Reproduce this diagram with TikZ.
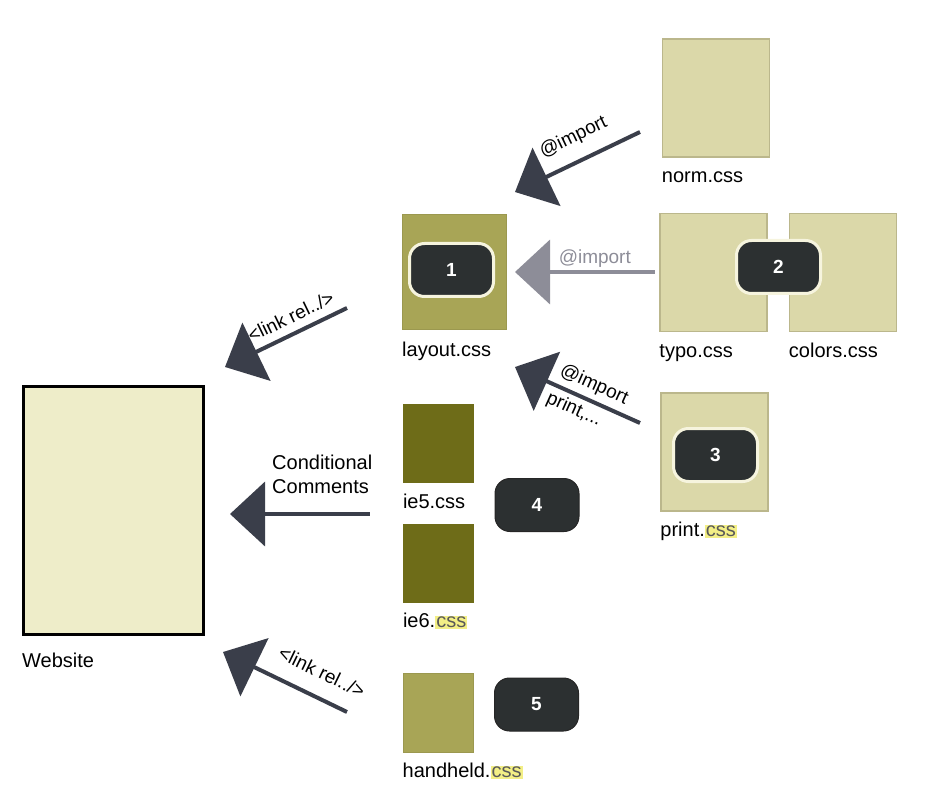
\documentclass[tikz,border=0pt]{standalone}
\usepackage{fontspec}
\setmainfont{Liberation Sans}
\usepackage{tikz}
\usetikzlibrary{arrows.meta,positioning}
\definecolor{sitefill}{HTML}{EEEDC9}
\definecolor{palefill}{HTML}{DBD8A9}
\definecolor{paleedge}{HTML}{BBB78C}
\definecolor{olivefill}{HTML}{A8A556}
\definecolor{darkolive}{HTML}{6E6C18}
\definecolor{badgedark}{HTML}{2C3031}
\definecolor{badgerim}{HTML}{F6F4DE}
\definecolor{arrowdark}{HTML}{3A3E4A}
\definecolor{arrowgray}{HTML}{8D8D98}
\definecolor{cssyellow}{HTML}{F3EF86}
\newcommand{\csshl}[1]{{\setlength{\fboxsep}{1pt}\colorbox{cssyellow}{\color{black!65}#1}}}
\tikzset{
    %Define style for boxes
    site/.style={
           rectangle,
           draw=black, line width=3pt,
           fill=sitefill,
           minimum width=180pt,
           minimum height=248pt,
           inner sep=0pt},
    pale/.style={
           rectangle,
           draw=paleedge, line width=1.5pt,
           fill=palefill,
           minimum width=107pt,
           minimum height=118pt,
           inner sep=0pt},
    olive/.style={
           rectangle,
           draw=olivefill!92!black, line width=1pt,
           fill=olivefill,
           inner sep=0pt},
    darkbox/.style={
           rectangle,
           fill=darkolive,
           minimum width=71pt,
           minimum height=79pt,
           inner sep=0pt},
    badge/.style={
           rectangle,
           rounded corners=15pt,
           draw=badgerim, line width=3pt,
           fill=badgedark,
           minimum width=84pt,
           minimum height=53pt,
           text=white,
           font=\fontsize{19}{21}\selectfont\bfseries},
    plainbadge/.style={badge, draw=black!85, line width=1pt},
    fname/.style={
           anchor=base west,
           inner sep=0pt,
           font=\fontsize{20}{24}\selectfont},
    % Define arrow style
    pil/.style={
           {Triangle[length=35pt,width=64pt]}-,
           line width=4pt,
           draw=arrowdark},
    tag/.style={sloped, inner sep=1pt, font=\fontsize{19}{22}\selectfont}
}
\begin{document}
\begin{tikzpicture}[x=1pt,y=-1pt]
\useasboundingbox (0,0) rectangle (932,810);
 %nodes
\node[site] (web) at (113.5,510.5) {};
\node[olive, minimum width=104pt, minimum height=115pt] (layout) at (454.5,272) {};
\node[pale] (norm) at (716,98) {};
\node[pale] (typo) at (713.5,272.5) {};
\node[pale] (colors) at (843,272.5) {};
\node[pale] (print) at (714.5,452) {};
\node[darkbox] (ie5) at (438.5,443.5) {};
\node[darkbox] (ie6) at (438.5,563) {};
\node[olive, minimum width=70pt, minimum height=79pt] (handheld) at (438,712.5) {};
 %badges
\node[badge] (b1) at (451.5,270) {1};
\node[badge] (b2) at (778.5,267) {2};
\node[badge] (b3) at (715.5,455) {3};
\node[plainbadge] (b4) at (537,505) {4};
\node[plainbadge] (b5) at (536.5,704.5) {5};
 %file names
\node[fname] at ([yshift=-31pt]web.south west) {Website};
\node[fname] at ([yshift=-26pt]layout.south west) {layout.css};
\node[fname] at ([yshift=-25pt]norm.south west) {norm.css};
\node[fname] at ([yshift=-25pt]typo.south west) {typo.css};
\node[fname] at ([yshift=-25pt]colors.south west) {colors.css};
\node[fname] at ([yshift=-25pt]print.south west) {print.\csshl{css}};
\node[fname] at ([yshift=-25pt]ie5.south west) {ie5.css};
\node[fname] at ([yshift=-25pt]ie6.south west) {ie6.\csshl{css}};
\node[fname] at ([yshift=-25pt]handheld.south west) {handheld.\csshl{css}};
\node[fname, anchor=north west, align=left] (cond) at (272,455) {Conditional\\Comments};
 %arrow ends
\coordinate (normtip) at (515,192);
\coordinate (normtail) at (640,132);
\coordinate (typotip) at (515,272);
\coordinate (typotail) at (655,272);
\coordinate (printtip) at (515,367);
\coordinate (printtail) at (640,423);
\coordinate (linktip) at (225,367);
\coordinate (linktail) at (347,308);
\coordinate (condtip) at (230,514);
\coordinate (condtail) at (370,514);
\coordinate (handtip) at (223,652);
\coordinate (handtail) at (347,712);
 %arrows
\draw[pil] (normtip) -- node[tag, above=12pt, pos=0.55] {@import} (normtail);
\draw[pil, draw=arrowgray] (typotip) -- node[tag, above=2pt, pos=0.57, text=arrowgray] {@import} (typotail);
\draw[pil] (printtip) -- node[tag, above=4pt, pos=0.58] {@import}
    node[tag, below=3pt, pos=0.52] {print,...} (printtail);
\draw[pil] (linktip) -- node[tag, above=7pt, pos=0.6] {<link rel../>} (linktail);
\draw[pil] (condtip) -- (condtail);
\draw[pil] (handtip) -- node[tag, above=15pt, pos=0.71] {<link rel../>} (handtail);
\end{tikzpicture}
\end{document}
